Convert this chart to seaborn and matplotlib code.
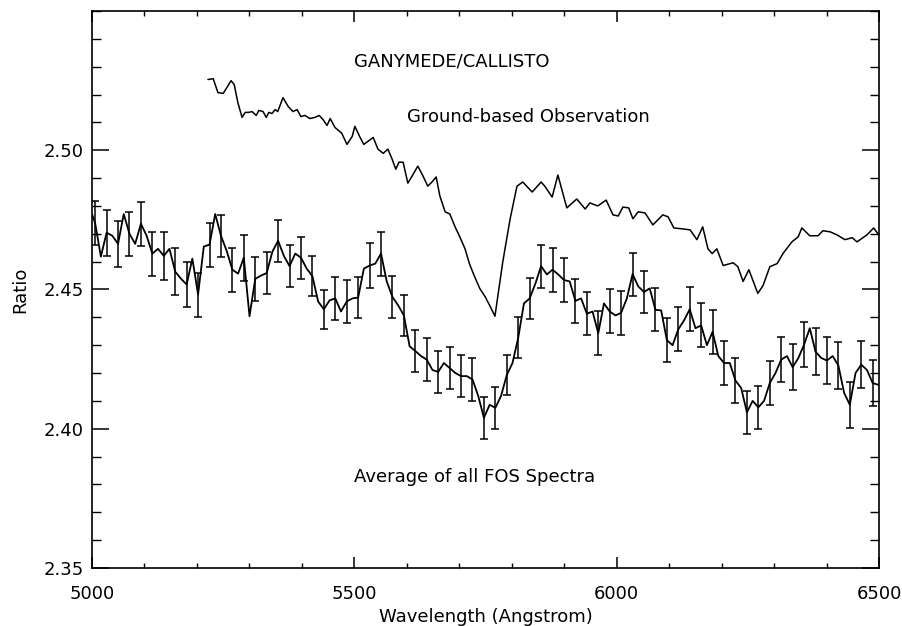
import numpy as np
import pandas as pd
import matplotlib
matplotlib.use("Agg")
import matplotlib.pyplot as plt
from matplotlib.ticker import MultipleLocator, FixedLocator
import seaborn as sns

# ground-based observation
ground_wl = [5221, 5231, 5240, 5250, 5257, 5265, 5271, 5278, 5286, 5292,
             5299, 5305, 5313, 5318, 5326, 5332, 5337, 5343, 5349, 5354,
             5364, 5374, 5383, 5391, 5398, 5406, 5415, 5425, 5433, 5440,
             5448, 5454, 5463, 5476, 5486, 5496, 5501, 5511, 5518, 5526,
             5536, 5545, 5555, 5564, 5572, 5579, 5585, 5593, 5602, 5610,
             5621, 5631, 5640, 5648, 5656, 5663, 5673, 5682, 5692, 5701,
             5711, 5720, 5730, 5739, 5749, 5759, 5768, 5783, 5797, 5810,
             5821, 5839, 5856, 5863, 5877, 5888, 5905, 5924, 5940, 5949,
             5964, 5980, 5993, 6003, 6012, 6023, 6031, 6041, 6054, 6069,
             6088, 6098, 6109, 6124, 6140, 6153, 6164, 6174, 6182, 6191,
             6203, 6222, 6231, 6241, 6252, 6269, 6279, 6292, 6306, 6317,
             6334, 6346, 6353, 6368, 6384, 6393, 6407, 6420, 6435, 6449,
             6458, 6477, 6490, 6498]
ground_ratio = [2.5254, 2.5257, 2.5207, 2.5204, 2.5225, 2.5250, 2.5236, 2.5171, 2.5118, 2.5136,
                2.5136, 2.5139, 2.5125, 2.5143, 2.5139, 2.5118, 2.5136, 2.5132, 2.5146, 2.5139,
                2.5189, 2.5157, 2.5139, 2.5146, 2.5121, 2.5125, 2.5114, 2.5118, 2.5125, 2.5111,
                2.5089, 2.5114, 2.5082, 2.5061, 2.5021, 2.5050, 2.5086, 2.5046, 2.5021, 2.5032,
                2.5046, 2.5004, 2.4989, 2.5004, 2.4968, 2.4932, 2.4957, 2.4957, 2.4882, 2.4907,
                2.4943, 2.4907, 2.4871, 2.4886, 2.4904, 2.4836, 2.4779, 2.4771, 2.4725, 2.4689,
                2.4646, 2.4589, 2.4543, 2.4504, 2.4475, 2.4439, 2.4404, 2.4600, 2.4754, 2.4871,
                2.4886, 2.4850, 2.4886, 2.4871, 2.4832, 2.4911, 2.4793, 2.4825, 2.4789, 2.4811,
                2.4800, 2.4821, 2.4768, 2.4764, 2.4796, 2.4793, 2.4754, 2.4779, 2.4775, 2.4732,
                2.4768, 2.4761, 2.4721, 2.4718, 2.4714, 2.4679, 2.4725, 2.4646, 2.4629, 2.4646,
                2.4586, 2.4596, 2.4582, 2.4529, 2.4571, 2.4486, 2.4514, 2.4582, 2.4593, 2.4629,
                2.4671, 2.4689, 2.4721, 2.4693, 2.4693, 2.4711, 2.4707, 2.4696, 2.4679, 2.4686,
                2.4671, 2.4696, 2.4721, 2.4700]

# average of FOS spectra: end points + points at the error bars and between them
fos_wl = np.concatenate([[5000], np.linspace(5006, 6488, 137), [6500]])
fos_ratio = [2.4771,
             2.4738, 2.4618, 2.4704, 2.4693, 2.4664, 2.4771, 2.4700, 2.4664, 2.4736, 2.4693,
             2.4629, 2.4646, 2.4621, 2.4646, 2.4564, 2.4539, 2.4518, 2.4611, 2.4482, 2.4654,
             2.4661, 2.4771, 2.4693, 2.4639, 2.4571, 2.4557, 2.4614, 2.4404, 2.4538, 2.4550,
             2.4559, 2.4636, 2.4675, 2.4621, 2.4584, 2.4629, 2.4614, 2.4575, 2.4548, 2.4457,
             2.4429, 2.4461, 2.4468, 2.4421, 2.4457, 2.4468, 2.4471, 2.4575, 2.4586, 2.4593,
             2.4629, 2.4529, 2.4473, 2.4443, 2.4407, 2.4296, 2.4279, 2.4261, 2.4248, 2.4211,
             2.4204, 2.4236, 2.4218, 2.4200, 2.4189, 2.4189, 2.4177, 2.4118, 2.4039, 2.4086,
             2.4075, 2.4118, 2.4193, 2.4236, 2.4327, 2.4450, 2.4468, 2.4521, 2.4584, 2.4554,
             2.4571, 2.4554, 2.4534, 2.4529, 2.4459, 2.4468, 2.4413, 2.4421, 2.4343, 2.4450,
             2.4421, 2.4407, 2.4416, 2.4468, 2.4555, 2.4511, 2.4491, 2.4504, 2.4427, 2.4425,
             2.4318, 2.4300, 2.4357, 2.4389, 2.4429, 2.4361, 2.4371, 2.4300, 2.4348, 2.4261,
             2.4236, 2.4236, 2.4173, 2.4146, 2.4059, 2.4100, 2.4077, 2.4100, 2.4164, 2.4200,
             2.4248, 2.4261, 2.4221, 2.4254, 2.4302, 2.4361, 2.4277, 2.4254, 2.4245, 2.4261,
             2.4227, 2.4129, 2.4086, 2.4200, 2.4230, 2.4211, 2.4164,
             2.4157]
fos_err = [0.0080, 0.0082, 0.0082, 0.0079, 0.0079, 0.0079, 0.0086, 0.0084, 0.0080, 0.0079,
           0.0079, 0.0075, 0.0079, 0.0082, 0.0079, 0.0075, 0.0075, 0.0075, 0.0075, 0.0073,
           0.0070, 0.0077, 0.0077, 0.0075, 0.0080, 0.0079, 0.0077, 0.0075, 0.0075, 0.0077,
           0.0075, 0.0077, 0.0075, 0.0077, 0.0075, 0.0075, 0.0071, 0.0073, 0.0075, 0.0077,
           0.0079, 0.0080, 0.0080, 0.0077, 0.0079, 0.0079, 0.0080, 0.0077, 0.0077, 0.0077,
           0.0079, 0.0079, 0.0079, 0.0079, 0.0080, 0.0079, 0.0080, 0.0077, 0.0077, 0.0079,
           0.0080, 0.0082, 0.0080, 0.0084, 0.0084, 0.0084, 0.0082, 0.0084, 0.0082]

x_ticks = [5000, 5500, 6000, 6500]
y_ticks = [2.35, 2.40, 2.45, 2.50]

sns.set_style("ticks")
plt.rcParams["font.family"] = ["DejaVu Sans"]
plt.rcParams["text.color"] = "black"
plt.rcParams["axes.labelcolor"] = "black"

ground = pd.DataFrame({"Wavelength": ground_wl, "Ratio": ground_ratio})
fos = pd.DataFrame({"Wavelength": fos_wl, "Ratio": fos_ratio})
bars = fos.iloc[1:-1:2]

fig = plt.figure(figsize=(9.03, 6.26), dpi=100)
ax = fig.add_axes([0.1019, 0.0927, 0.8715, 0.8897])

sns.lineplot(data=ground, x="Wavelength", y="Ratio", color="black", linewidth=1.1,
             estimator=None, sort=False, ax=ax)
sns.lineplot(data=fos, x="Wavelength", y="Ratio", color="black", linewidth=1.3,
             estimator=None, sort=False, ax=ax)
ax.errorbar(bars["Wavelength"], bars["Ratio"], yerr=fos_err, fmt="none",
            ecolor="black", elinewidth=1.1, capsize=2.9, capthick=1.1)

ax.set_xlim(5000, 6500)
ax.set_ylim(2.35, 2.55)
ax.xaxis.set_major_locator(FixedLocator(x_ticks))
ax.xaxis.set_minor_locator(MultipleLocator(100))
ax.yaxis.set_major_locator(FixedLocator(y_ticks))
ax.yaxis.set_minor_locator(MultipleLocator(0.01))
ax.set_xticklabels([str(t) for t in x_ticks])
ax.set_yticklabels([f"{t:.2f}" for t in y_ticks])

ax.tick_params(which="both", direction="in", top=True, right=True, color="black",
               labelsize=13, labelcolor="black")
ax.tick_params(axis="x", which="major", length=8, width=1.1, pad=12)
ax.tick_params(axis="x", which="minor", length=3.6, width=1.0)
ax.tick_params(axis="y", which="major", length=12, width=1.1, pad=6)
ax.tick_params(axis="y", which="minor", length=6.5, width=1.0)
for s in ax.spines.values():
    s.set_linewidth(1.2)
    s.set_color("black")

ax.set_xlabel("Wavelength (Angstrom)", fontsize=13, labelpad=4)
ax.set_ylabel("Ratio", fontsize=13, labelpad=10)

ax.text(5500, 2.532, "GANYMEDE/CALLISTO", fontsize=13, va="center", ha="left", color="black")
ax.text(5600, 2.512, "Ground-based Observation", fontsize=13, va="center", ha="left", color="black")
ax.text(5500, 2.3825, "Average of all FOS Spectra", fontsize=13, va="center", ha="left", color="black")

fig.savefig("out.png", dpi=100)
